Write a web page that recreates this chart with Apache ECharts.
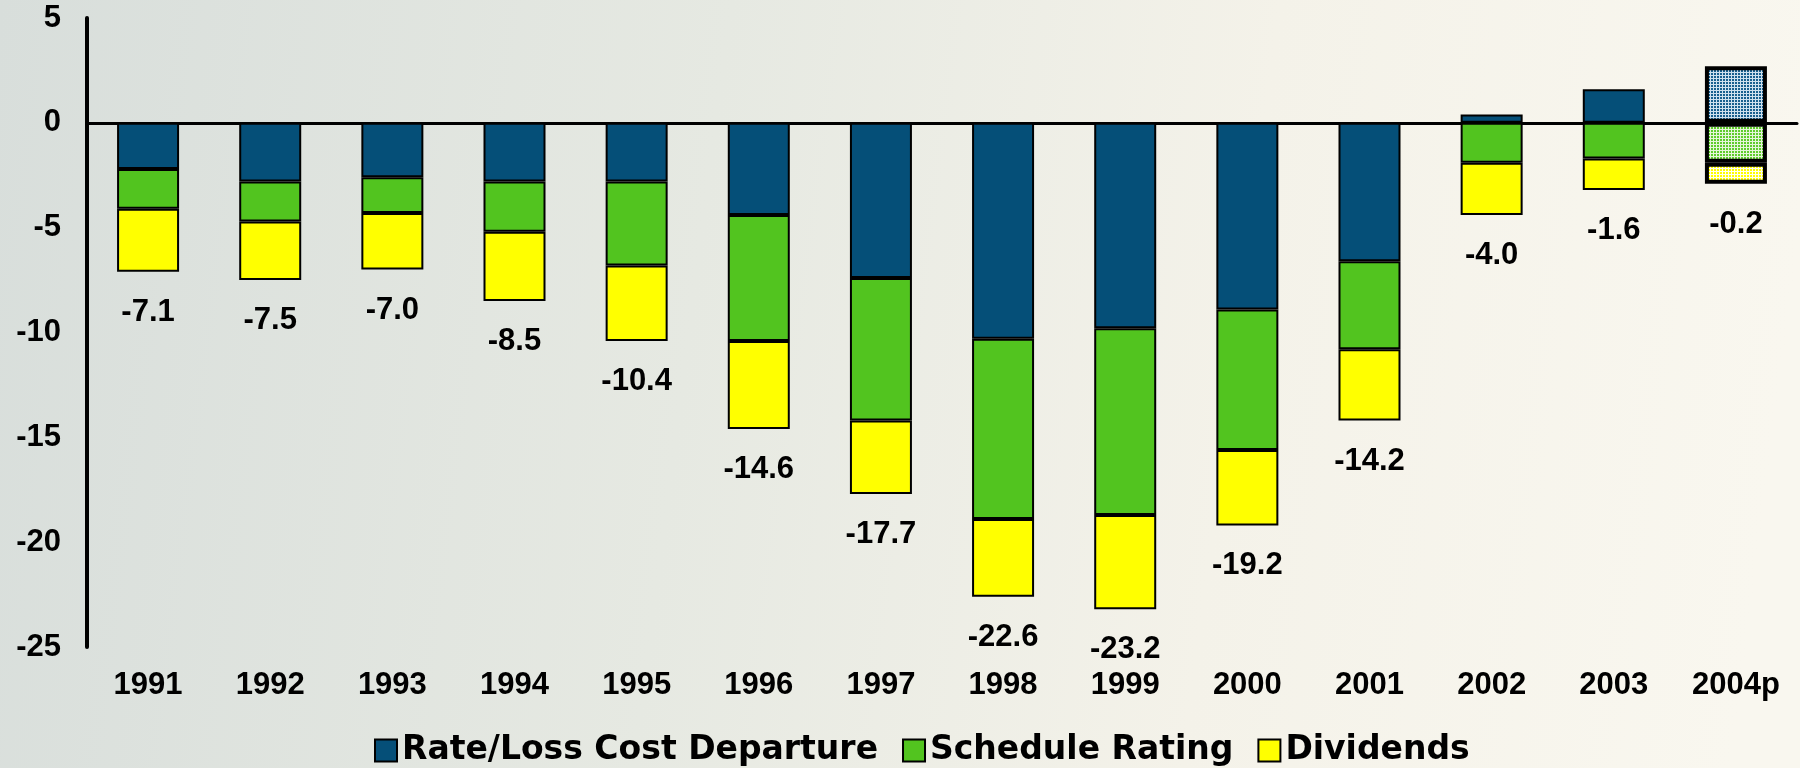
<!DOCTYPE html>
<html>
<head>
<meta charset="utf-8">
<style>
  html, body { margin: 0; padding: 0; }
  #main { width: 1800px; height: 768px; }
</style>
<script src="https://cdn.jsdelivr.net/npm/echarts@6/dist/echarts.min.js"></script>
</head>
<body>
<div id="main"></div>
<script>
;(function () {

    var years = ['1991', '1992', '1993', '1994', '1995', '1996', '1997',
        '1998', '1999', '2000', '2001', '2002', '2003', '2004p'];
    var rateLossCost = [-2.2, -2.8, -2.6, -2.8, -2.8, -4.4, -7.4, -10.3, -9.8, -8.9, -6.6, 0.4, 1.6, 2.7];
    var scheduleRating = [-1.9, -1.9, -1.7, -2.4, -4.0, -6.0, -6.8, -8.6, -8.9, -6.7, -4.2, -1.9, -1.7, -1.9];
    var dividends = [-3.0, -2.8, -2.7, -3.3, -3.6, -4.2, -3.5, -3.7, -4.5, -3.6, -3.4, -2.5, -1.5, -1.0];
    var totals = ['-7.1', '-7.5', '-7.0', '-8.5', '-10.4', '-14.6', '-17.7', '-22.6', '-23.2', '-19.2', '-14.2', '-4.0', '-1.6', '-0.2'];
    var yTicks = { min: -25, max: 5, interval: 5 };

    var colors = { rate: '#054f78', schedule: '#52c41f', dividends: '#ffff00' };

    // 2004p is a projection: drawn with a fine mesh instead of solid fill
    function makePattern(fill, line) {
        var c = document.createElement('canvas');
        c.width = 3;
        c.height = 3;
        var ctx = c.getContext('2d');
        ctx.fillStyle = fill;
        ctx.fillRect(0, 0, 3, 3);
        ctx.fillStyle = line;
        ctx.fillRect(0, 0, 3, 1);
        ctx.fillRect(0, 0, 1, 3);
        return { image: c, repeat: 'repeat' };
    }
    var patterns = {
        rate: makePattern('#185f8e', '#cfe1ee'),
        schedule: makePattern('#5fcc2c', '#e6f6da'),
        dividends: makePattern('#ffff00', '#fffff2')
    };

    function toData(values, key) {
        return values.map(function (v, i) {
            if (years[i] === '2004p') {
                return { value: v, itemStyle: { color: patterns[key], borderWidth: 4 } };
            }
            return v;
        });
    }

    var boldText = { color: '#000', fontWeight: 'bold', fontSize: 31, fontFamily: 'Liberation Sans, Arial, sans-serif' };

    function barSeries(name, values, key) {
        return {
            name: name,
            type: 'bar',
            stack: 'total',
            barWidth: 62,
            xAxisIndex: 0,
            itemStyle: { color: colors[key], borderColor: '#000', borderWidth: 2 },
            emphasis: { disabled: true },
            data: toData(values, key)
        };
    }

    var divSeries = barSeries('Dividends', dividends, 'dividends');
    divSeries.label = Object.assign({
        show: true,
        position: 'bottom',
        distance: 25,
        formatter: function (p) { return totals[p.dataIndex]; }
    }, boldText);

    var chart = echarts.init(document.getElementById('main'));
    chart.setOption({
        backgroundColor: {
            type: 'linear', x: 0, y: 0, x2: 1, y2: 0.3,
            colorStops: [
                { offset: 0, color: '#d8dedb' },
                { offset: 0.4, color: '#e6e9e2' },
                { offset: 0.7, color: '#f4f2e9' },
                { offset: 1, color: '#f9f7ef' }
            ]
        },
        animation: false,
        grid: { left: 87, right: 3, top: 18, bottom: 121 },
        legend: {
            left: 369,
            top: 729,
            icon: 'rect',
            itemWidth: 22,
            itemHeight: 22,
            itemGap: 24,
            textStyle: {
                color: '#000', fontWeight: 'bold', fontSize: 33, fontFamily: 'DejaVu Sans, sans-serif',
                textShadowColor: 'rgba(0,0,0,0.3)', textShadowOffsetX: 1.5, textShadowOffsetY: 1.5
            },
            data: ['Rate/Loss Cost Departure', 'Schedule Rating', 'Dividends']
        },
        xAxis: [{
            type: 'category',
            data: years,
            position: 'bottom',
            axisLine: { show: false, onZero: false },
            axisTick: { show: false },
            axisLabel: Object.assign({ margin: 23 }, boldText)
        }, {
            type: 'category',
            data: years,
            axisLine: { show: true, onZero: true, lineStyle: { color: '#000', width: 3 } },
            axisTick: { show: false },
            axisLabel: { show: false }
        }],
        yAxis: {
            type: 'value',
            min: yTicks.min,
            max: yTicks.max,
            interval: yTicks.interval,
            axisLine: { show: true, lineStyle: { color: '#000', width: 4 } },
            axisTick: { show: false },
            splitLine: { show: false },
            axisLabel: Object.assign({ margin: 26 }, boldText)
        },
        series: [
            barSeries('Rate/Loss Cost Departure', rateLossCost, 'rate'),
            barSeries('Schedule Rating', scheduleRating, 'schedule'),
            divSeries
        ]
    });
})();
</script>
</body>
</html>
